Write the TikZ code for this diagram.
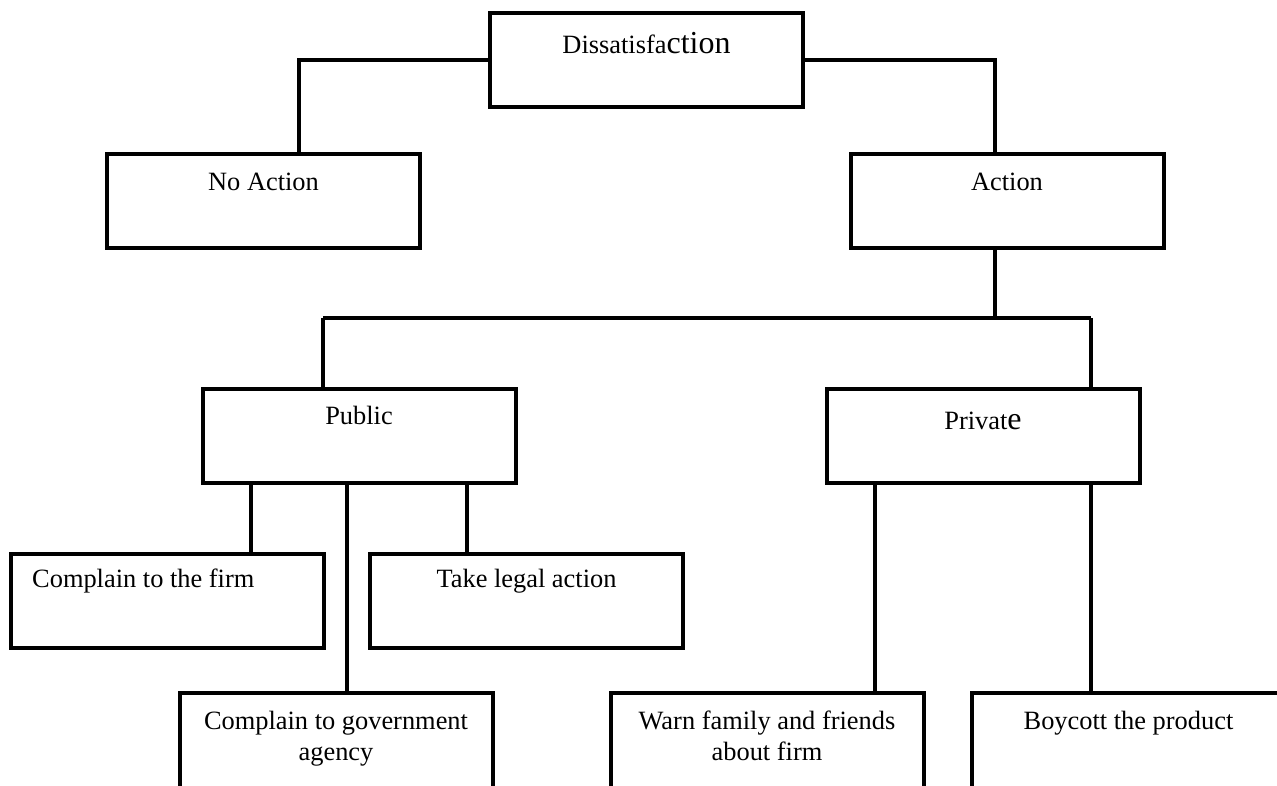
\documentclass[tikz,border=0pt]{standalone}
\usepackage{fontspec}
\setmainfont{Liberation Serif}
\newcommand{\bigpart}[1]{{\fontsize{32}{36}\selectfont #1}}
\begin{document}
\begin{tikzpicture}[x=1pt,y=-1pt,
  box/.style={draw=black, line width=4pt, minimum width=313pt, minimum height=94pt, inner sep=0pt},
  lowbox/.style={box, minimum height=120pt},
  lbl/.style={font=\fontsize{26.4}{36}\selectfont, inner sep=0pt, align=center},
  conn/.style={draw=black, line width=3.2pt}]
\clip (0,0) rectangle (1277,785);
\useasboundingbox (0,0) rectangle (1277,785);
% boxes
\node[box] (dis) at (646.5,60) {};
\node[box] (noact) at (263.5,201) {};
\node[box] (act) at (1007,201) {};
\node[box] (pub) at (359,436) {};
\node[box] (priv) at (983,436) {};
\node[box] (cfirm) at (167.5,600.5) {};
\node[box] (legal) at (526.5,600.5) {};
\node[lowbox] (gov) at (336,753) {};
\node[lowbox] (warn) at (767,753) {};
\node[lowbox] (boy) at (1128.5,753) {};
% labels
\node[lbl, anchor=base] (disT) at ([yshift=-42pt]dis.north) {Dissatisfa\bigpart{ction}};
\node[lbl, anchor=base] (noactT) at ([yshift=-38pt]noact.north) {No Action};
\node[lbl, anchor=base] (actT) at ([yshift=-38pt]act.north) {Action};
\node[lbl, anchor=base] (pubT) at ([yshift=-37pt]pub.north) {Public};
\node[lbl, anchor=base] (privT) at ([yshift=-42pt]priv.north) {Privat\bigpart{e}};
\node[lbl, anchor=base west] (cfirmT) at ([xshift=23pt,yshift=-36pt]cfirm.north west) {Complain to the firm};
\node[lbl, anchor=base] (legalT) at ([yshift=-36pt]legal.north) {Take legal action};
\node[lbl, anchor=base] (govT1) at ([yshift=-38pt]gov.north) {Complain to government};
\node[lbl, anchor=base] (govT2) at ([yshift=-69pt]gov.north) {agency};
\node[lbl, anchor=base] (warnT1) at ([yshift=-38pt]warn.north) {Warn family and friends};
\node[lbl, anchor=base] (warnT2) at ([yshift=-69pt]warn.north) {about firm};
\node[lbl, anchor=base] (boyT) at ([yshift=-38pt]boy.north) {Boycott the product};
% connectors
\coordinate (busL) at (323,318);
\coordinate (busR) at (1091,318);
\draw[conn] (dis.west) -| ([xshift=35.5pt]noact.north);
\draw[conn] (dis.east) -| ([xshift=-12pt]act.north);
\draw[conn] ([xshift=-12pt]act.south) -- ([xshift=-12pt]act.south |- busL);
\draw[conn] (busL) -- (busR);
\draw[conn] (busL) -- (busL |- pub.north);
\draw[conn] (busR) -- (busR |- priv.north);
\draw[conn] ([xshift=-108pt]pub.south) -- ([xshift=-108pt]pub.south |- cfirm.north);
\draw[conn] ([xshift=-12pt]pub.south) -- ([xshift=-12pt]pub.south |- gov.north);
\draw[conn] ([xshift=108pt]pub.south) -- ([xshift=108pt]pub.south |- legal.north);
\draw[conn] ([xshift=-108pt]priv.south) -- ([xshift=-108pt]priv.south |- warn.north);
\draw[conn] ([xshift=108pt]priv.south) -- ([xshift=108pt]priv.south |- boy.north);
\end{tikzpicture}
\end{document}
